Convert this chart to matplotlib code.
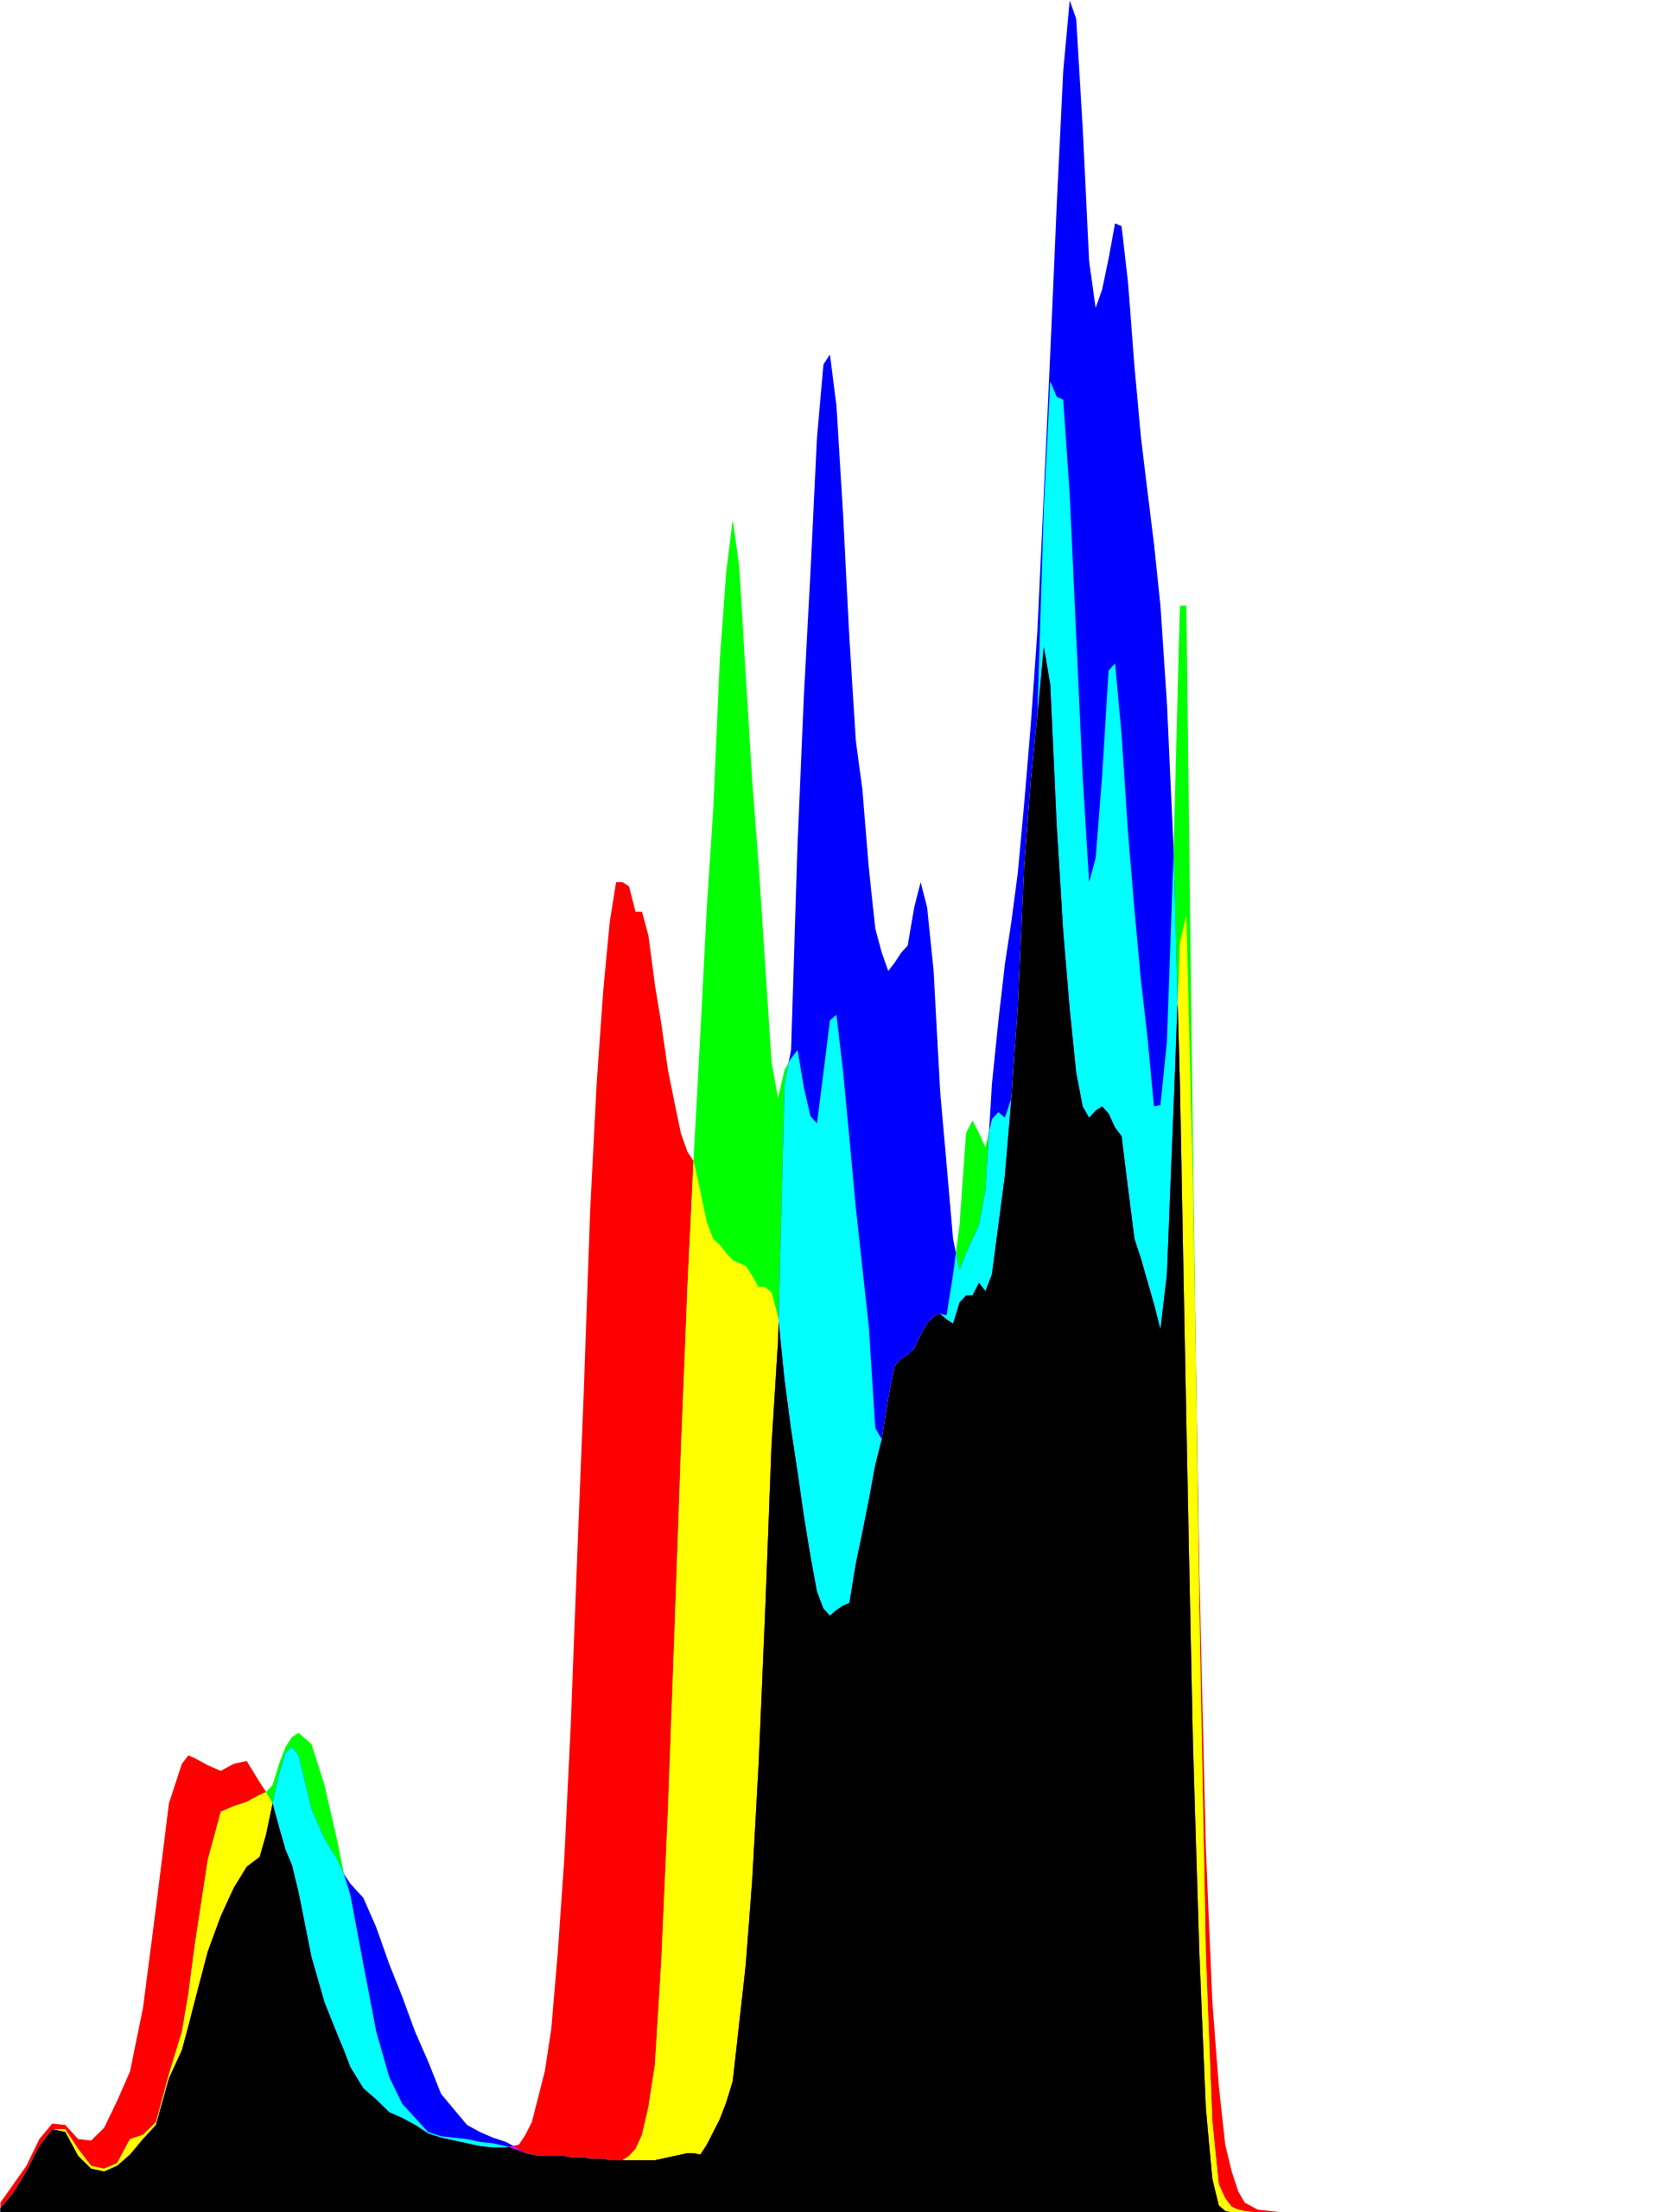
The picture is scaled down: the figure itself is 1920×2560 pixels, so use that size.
import numpy as np
import matplotlib
matplotlib.use("Agg")
import matplotlib.pyplot as plt

# histogram samples (tone level -> count, arbitrary units)
levels = [0, 2, 4, 6, 8, 10, 12, 14, 16, 18, 20, 22, 24, 26, 28, 29, 30, 32, 34, 36, 38, 40, 41,
          42, 43, 44, 45, 46, 48, 50, 52, 53, 54, 56, 58, 60, 62, 64, 66, 68, 70, 72, 74, 76, 78,
          80, 81, 82, 83, 84, 85, 86, 87, 88, 89, 90, 91, 92, 93, 94, 95, 96, 97, 98, 99, 100,
          101, 102, 103, 104, 105, 106, 107, 108, 109, 110, 111, 112, 113, 114, 115, 116, 117,
          118, 119, 120, 121, 122, 123, 124, 125, 126, 127, 128, 129, 130, 131, 132, 133, 134,
          135, 136, 137, 138, 139, 140, 141, 142, 143, 144, 145, 146, 147, 148, 149, 150, 151,
          152, 153, 154, 155, 156, 157, 158, 159, 160, 161, 162, 163, 164, 165, 166, 167, 168,
          169, 170, 171, 172, 173, 174, 175, 176, 177, 178, 179, 180, 181, 182, 183, 184, 185,
          186, 187, 188, 189, 190, 191, 192, 194, 196, 198, 255]

red = [7, 20, 33, 52, 63, 62, 52, 51, 60, 79, 100, 145, 216, 290, 318, 324, 322, 317, 313, 318, 320, 305, 298,
       290, 273, 257, 246, 227, 181, 149, 126, 115, 103, 88, 80, 71, 67, 62, 56, 53, 51, 49, 47, 46, 46,
       48, 55, 64, 82, 100, 130, 184, 250, 345, 465, 580, 710, 800, 865, 914, 943, 943, 940, 922, 922, 905,
       870, 842, 810, 787, 765, 752, 745, 724, 702, 690, 686, 680, 675, 673, 671, 664, 656,
       656, 652, 635, 590, 555, 525, 493, 465, 440, 428, 423, 427, 430, 432, 460, 482, 505,
       530, 548, 577, 600, 605, 608, 612, 622, 630, 635, 637, 633, 630, 645, 650, 650, 659,
       653, 665, 700, 735, 790, 855, 955, 1015, 1060, 1110, 1083, 983, 908, 853, 808, 784, 776,
       781, 784, 779, 769, 763, 726, 690, 676, 660, 644, 626, 665, 780, 900, 920, 732, 455,
       259, 150, 90, 48, 29, 15, 7, 2, 1, 0, 0]

green = [3, 14, 29, 47, 59, 59, 45, 33, 31, 35, 52, 55, 64, 98, 128, 155, 190, 250, 284, 288, 291, 296, 298,
         303, 318, 330, 337, 340, 332, 303, 263, 240, 225, 176, 128, 96, 77, 67, 57, 54, 53, 52, 50, 49, 47,
         44, 42, 41, 40, 40, 40, 40, 40, 39, 39, 39, 38, 38, 38, 37, 37, 37, 40, 45, 55, 75,
         105, 180, 285, 410, 540, 655, 750, 835, 925, 995, 1100, 1163, 1200, 1167, 1090, 1015, 955,
         885, 815, 790, 810, 818, 824, 797, 777, 772, 808, 845, 849, 810, 762, 712, 670, 628,
         556, 548, 577, 600, 605, 608, 612, 622, 630, 635, 637, 636, 665, 700, 765, 774, 765,
         755, 775, 780, 776, 790, 855, 955, 1015, 1060, 1208, 1298, 1287, 1285, 1218, 1118, 1018, 943,
         960, 1018, 1093, 1098, 1048, 978, 923, 873, 833, 784, 785, 830, 960, 1139, 1139, 760, 430,
         184, 65, 20, 10, 4, 2, 1, 0, 0, 0, 0]

blue = [3, 14, 29, 47, 59, 57, 40, 31, 29, 33, 41, 52, 62, 95, 115, 132, 150, 185, 210, 230, 245, 252, 268,
        290, 311, 326, 330, 324, 286, 265, 250, 240, 233, 223, 202, 176, 153, 128, 107, 84, 73, 62, 57, 53, 50,
        45, 42, 41, 40, 40, 40, 40, 40, 39, 39, 39, 38, 38, 38, 37, 37, 37, 37, 37, 37, 37,
        37, 38, 39, 40, 41, 42, 42, 41, 48, 57, 66, 78, 93, 134, 175, 235, 318,
        425, 545, 618, 800, 824, 970, 1077, 1163, 1258, 1310, 1317, 1281, 1206, 1116, 1043, 1009, 953,
        910, 893, 880, 886, 893, 898, 925, 943, 925, 880, 795, 743, 690, 668, 680, 690, 700,
        725, 800, 845, 885, 915, 950, 1000, 1055, 1120, 1218, 1318, 1423, 1518, 1568, 1555, 1478, 1383,
        1350, 1363, 1385, 1410, 1408, 1368, 1308, 1258, 1220, 1183, 1139, 1070, 970, 800, 559, 334, 184,
        74, 24, 5, 1, 0, 0, 0, 0, 0, 0, 0]

# fine grid so that the crossings of the straight segments come out right
x = np.linspace(0, 255, 6000)
r = np.interp(x, levels, red)
g = np.interp(x, levels, green)
b = np.interp(x, levels, blue)

fig = plt.figure(figsize=(19.2, 25.6), dpi=100)
ax = fig.add_axes([0, 0, 1, 1])

# band above the middle value shows the highest channel only
ax.fill_between(x, 0, r, color="#ff0000", lw=0)
ax.fill_between(x, 0, g, color="#00ff00", lw=0)
ax.fill_between(x, 0, b, color="#0000ff", lw=0)
# band between lowest and middle shows the two highest mixed
ax.fill_between(x, 0, np.minimum(r, g), color="#ffff00", lw=0)
ax.fill_between(x, 0, np.minimum(g, b), color="#00ffff", lw=0)
ax.fill_between(x, 0, np.minimum(r, b), color="#ff00ff", lw=0)
# under all three
ax.fill_between(x, 0, np.minimum(np.minimum(r, g), b), color="#000000", lw=0)

ax.set_xlim(0, 256)
ax.set_ylim(0, 1568)
ax.axis("off")

fig.savefig("out.png", dpi=100, facecolor="white")
